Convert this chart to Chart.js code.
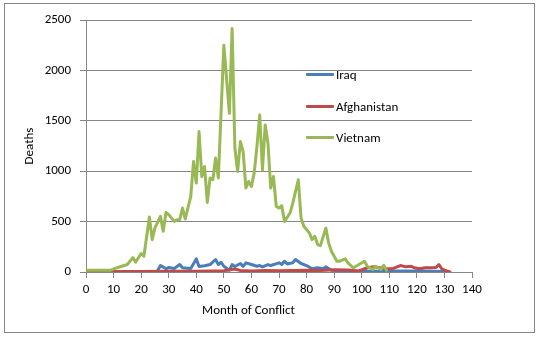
<!DOCTYPE html>
<html>
<head>
<meta charset="utf-8">
<script src="https://cdn.jsdelivr.net/npm/chart.js@4/dist/chart.umd.min.js"></script>
<style>
  html, body { margin: 0; padding: 0; background: #fff; }
  #wrap { position: relative; width: 538px; height: 337px; font-family: Calibri, Carlito, "Liberation Sans", sans-serif; }
  #frame { position: absolute; left: 4px; top: 3px; width: 531px; height: 330px; box-sizing: border-box; border: 1px solid #868686; pointer-events: none; }
  #xTitle { position: absolute; left: 0; width: 497px; top: 302px; line-height: 16px; text-align: center; font-size: 13px; color: #000; }
  #legend { position: absolute; left: 306px; top: 0; }
  .entry { position: absolute; left: 0; height: 16px; white-space: nowrap; font-size: 13px; line-height: 16px; color: #000; }
  .entry span.swatch { position: absolute; left: 0; top: 6px; width: 28px; height: 3px; border-radius: 1px; }
  .entry span.txt { position: absolute; left: 30px; top: 0; }
</style>
</head>
<body>
<div id="wrap">
  <canvas id="myChart" width="538" height="337"></canvas>
  <div id="frame"></div>
  <div id="xTitle">Month of Conflict</div>
  <div id="legend"></div>
</div>
<script>
// values (month of conflict -> deaths)
const iraqMonths = [26,27,28,29,30,32,34,35,38,40,41,43,45,47,48,49,50,52,53,54,56,57,58,60,62,63,64,66,67,70,71,72,73,75,76,78,80,82,84,86,87,89,95,105,115,125,131];
const iraqDeaths = [15,64,50,32,45,35,74,42,35,130,55,62,74,124,74,97,57,18,74,55,84,55,91,74,57,64,50,74,64,91,74,107,80,91,124,84,64,32,42,32,51,18,10,8,10,8,5];

const afghanMonths = [0,10,20,30,40,50,54,56,60,65,70,75,80,85,90,95,99,102,104,106,109,111,114,116,118,119,121,123,125,127,128,129,130,132];
const afghanDeaths = [3,5,5,8,8,12,30,15,10,15,12,15,18,15,22,20,10,42,51,45,32,32,64,51,57,42,32,42,42,45,74,32,18,0];

const vietnamMonths = [0,9,11,13,15,17,18,20,21,23,24,25,27,28,29,30,32,33,34,35,36,38,39,40,41,42,43,44,45,46,47,48,50,52,53,54,55,56,57,58,59,60,61,62,63,64,65,66,67,68,69,70,71,72,74,75,77,78,79,81,82,83,84,85,87,88,89,91,92,94,95,97,99,101,102,104,105,107,108,109];
const vietnamDeaths = [18,18,40,57,74,143,97,183,156,546,321,437,552,404,591,569,502,519,519,635,526,750,1096,882,1393,947,1046,690,932,915,1130,932,2250,1574,2415,1228,997,1294,1195,833,898,849,981,1244,1558,1014,1459,1278,833,947,651,635,658,502,585,684,915,536,453,388,321,354,272,262,437,289,206,107,107,131,91,42,74,107,57,25,57,25,67,18];

const seriesNames = ['Iraq', 'Afghanistan', 'Vietnam'];
const seriesColors = ['#4A7EBB', '#BE4B48', '#98B954'];

// x axis 0..140 by 10, y axis 0..2500 by 500
const xMax = 140, xStep = 10;
const yMax = 2500, yStep = 500;

function pairs(xs, ys) {
    return xs.map((x, i) => ({ x: x, y: ys[i] }));
}

const fontFamily = 'Calibri, Carlito, "Liberation Sans", sans-serif';
const axisGrey = '#868686';

const data = {
    datasets: [
        { label: seriesNames[0], data: pairs(iraqMonths, iraqDeaths), borderColor: seriesColors[0], order: 2 },
        { label: seriesNames[1], data: pairs(afghanMonths, afghanDeaths), borderColor: seriesColors[1], order: 1 },
        { label: seriesNames[2], data: pairs(vietnamMonths, vietnamDeaths), borderColor: seriesColors[2], order: 0 }
    ]
};

const config = {
    type: 'line',
    data: data,
    options: {
        responsive: false,
        animation: false,
        layout: { padding: { top: 20, right: 66, bottom: 0, left: 0 } },
        elements: {
            point: { radius: 0 },
            line: { borderWidth: 3, tension: 0, fill: false, borderJoinStyle: 'round', borderCapStyle: 'round' }
        },
        plugins: {
            legend: { display: false },
            tooltip: { enabled: false }
        },
        scales: {
            x: {
                type: 'linear',
                min: 0,
                max: xMax,
                ticks: { stepSize: xStep, color: '#000', padding: 4, maxRotation: 0, font: { family: fontFamily, size: 13 },
                         callback: function (v) { return String(v); } },
                grid: { drawOnChartArea: false, drawTicks: true, tickLength: 6, color: axisGrey },
                border: { color: axisGrey },
                afterFit: function (scale) { scale.height = 65; }
            },
            y: {
                min: 0,
                max: yMax,
                ticks: { stepSize: yStep, color: '#000', padding: 9, font: { family: fontFamily, size: 13 },
                         callback: function (v) { return String(v); } },
                grid: { color: axisGrey, tickLength: 6, drawTicks: true },
                border: { color: axisGrey },
                title: { display: true, text: 'Deaths', color: '#000', padding: { top: 22, bottom: 0 }, font: { family: fontFamily, size: 13 } },
                afterFit: function (scale) { scale.width = 86; }
            }
        }
    }
};

const myChart = new Chart(document.getElementById('myChart'), config);

// legend sits inside the plot area like the original
const legendY = [75, 107, 138];
const legend = document.getElementById('legend');
myChart.data.datasets.forEach(function (ds, i) {
    const row = document.createElement('div');
    row.className = 'entry';
    row.style.top = (legendY[i] - 8) + 'px';
    const sw = document.createElement('span');
    sw.className = 'swatch';
    sw.style.background = ds.borderColor;
    const t = document.createElement('span');
    t.className = 'txt';
    t.textContent = ds.label;
    row.appendChild(sw);
    row.appendChild(t);
    legend.appendChild(row);
});
</script>
</body>
</html>
